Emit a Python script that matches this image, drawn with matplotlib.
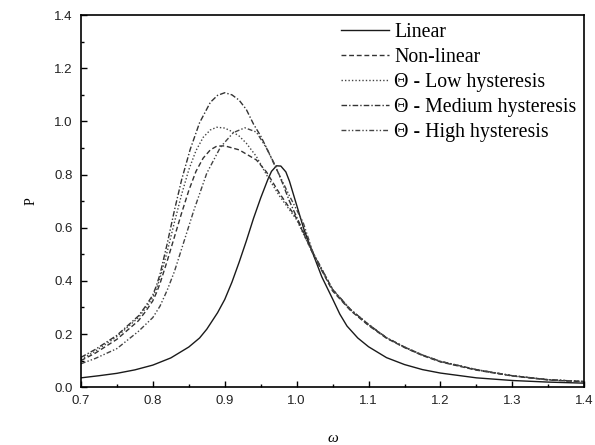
import matplotlib
matplotlib.use('Agg')
import matplotlib.pyplot as plt
from matplotlib.ticker import MultipleLocator

# ---------- Data ----------
w_linear = [0.70, 0.725, 0.75, 0.775, 0.80, 0.825, 0.85, 0.865, 0.875, 0.89, 0.90,
            0.91, 0.92, 0.93, 0.94, 0.95, 0.96, 0.965, 0.972, 0.978, 0.985, 0.99,
            1.00, 1.01, 1.023, 1.035, 1.05, 1.06, 1.07, 1.085, 1.10, 1.125, 1.15,
            1.175, 1.20, 1.25, 1.30, 1.35, 1.40]
p_linear = [0.035, 0.043, 0.052, 0.065, 0.083, 0.110, 0.151, 0.185, 0.218, 0.280,
            0.330, 0.395, 0.470, 0.550, 0.635, 0.712, 0.782, 0.812, 0.833, 0.832,
            0.810, 0.775, 0.685, 0.595, 0.500, 0.415, 0.332, 0.275, 0.230, 0.185,
            0.152, 0.111, 0.085, 0.066, 0.053, 0.035, 0.025, 0.019, 0.015]

w_nonlin = [0.70, 0.72, 0.75, 0.78, 0.79, 0.80, 0.805, 0.81, 0.82, 0.83, 0.84, 0.85,
            0.86, 0.87, 0.88, 0.889, 0.90, 0.92, 0.944, 0.958, 0.976, 1.00, 1.023,
            1.05, 1.075, 1.10, 1.125, 1.15, 1.175, 1.20, 1.25, 1.30, 1.35, 1.40]
p_nonlin = [0.100, 0.128, 0.180, 0.250, 0.285, 0.325, 0.355, 0.390, 0.475, 0.565,
            0.655, 0.740, 0.812, 0.862, 0.893, 0.907, 0.908, 0.893, 0.855, 0.810,
            0.730, 0.635, 0.500, 0.362, 0.288, 0.232, 0.184, 0.149, 0.119, 0.095,
            0.064, 0.042, 0.027, 0.020]

w_low = [0.70, 0.72, 0.75, 0.78, 0.79, 0.80, 0.805, 0.81, 0.82, 0.83, 0.84, 0.85,
         0.86, 0.87, 0.88, 0.889, 0.90, 0.91, 0.92, 0.93, 0.944, 0.96, 0.976, 1.00,
         1.023, 1.05, 1.075, 1.10, 1.125, 1.15, 1.175, 1.20, 1.25, 1.30, 1.35, 1.40]
p_low = [0.105, 0.135, 0.190, 0.262, 0.297, 0.338, 0.370, 0.410, 0.510, 0.620,
         0.725, 0.818, 0.890, 0.940, 0.968, 0.978, 0.975, 0.962, 0.945, 0.918,
         0.868, 0.790, 0.720, 0.630, 0.500, 0.365, 0.290, 0.234, 0.185, 0.150,
         0.120, 0.096, 0.065, 0.043, 0.028, 0.021]

w_med = [0.70, 0.72, 0.75, 0.78, 0.79, 0.80, 0.805, 0.81, 0.82, 0.83, 0.84, 0.852,
         0.865, 0.88, 0.89, 0.90, 0.91, 0.92, 0.93, 0.94, 0.95, 0.96, 0.97, 0.98,
         0.99, 1.00, 1.023, 1.05, 1.075, 1.10, 1.125, 1.15, 1.175, 1.20, 1.25, 1.30,
         1.35, 1.40]
p_med = [0.112, 0.142, 0.195, 0.268, 0.305, 0.347, 0.382, 0.425, 0.540, 0.665,
         0.780, 0.895, 0.995, 1.072, 1.098, 1.108, 1.100, 1.080, 1.045, 0.990,
         0.945, 0.890, 0.835, 0.770, 0.700, 0.640, 0.505, 0.368, 0.292, 0.236,
         0.186, 0.151, 0.121, 0.097, 0.066, 0.043, 0.028, 0.021]

w_high = [0.70, 0.72, 0.75, 0.78, 0.80, 0.81, 0.82, 0.83, 0.84, 0.857, 0.875, 0.894,
          0.912, 0.928, 0.944, 0.958, 0.972, 0.99, 1.009, 1.023, 1.05, 1.075, 1.10,
          1.125, 1.15, 1.175, 1.20, 1.25, 1.30, 1.35, 1.40]
p_high = [0.088, 0.108, 0.145, 0.210, 0.262, 0.305, 0.365, 0.435, 0.520, 0.665,
          0.805, 0.903, 0.958, 0.976, 0.960, 0.900, 0.820, 0.720, 0.620, 0.505,
          0.368, 0.292, 0.236, 0.186, 0.151, 0.121, 0.097, 0.066, 0.043, 0.028,
          0.021]

labels = ['Linear', 'Non-linear', '\u0398 - Low hysteresis',
          '\u0398 - Medium hysteresis', '\u0398 - High hysteresis']

# ---------- Plot ----------
fig = plt.figure(figsize=(5.95, 4.45), dpi=100)
ax = fig.add_axes([0.136, 0.130, 0.846, 0.836])

lw = 1.0
ax.plot(w_linear, p_linear, color='#1a1a1a', lw=lw, ls='-', label=labels[0])
ax.plot(w_nonlin, p_nonlin, color='#333333', lw=lw, ls=(0, (3.5, 2)), label=labels[1])
ax.plot(w_low, p_low, color='#444444', lw=lw, ls=(0, (1, 1.5)), label=labels[2])
ax.plot(w_med, p_med, color='#333333', lw=lw, ls=(0, (4, 1.5, 1, 1.5)), label=labels[3])
ax.plot(w_high, p_high, color='#444444', lw=lw, ls=(0, (3.5, 1.5, 1, 1.5, 1, 1.5)),
        label=labels[4])

ax.set_xlim(0.7, 1.4)
ax.set_ylim(0.0, 1.4)
ax.xaxis.set_major_locator(MultipleLocator(0.1))
ax.xaxis.set_minor_locator(MultipleLocator(0.05))
ax.yaxis.set_major_locator(MultipleLocator(0.2))
ax.yaxis.set_minor_locator(MultipleLocator(0.1))
ax.tick_params(which='both', direction='in', top=False, right=False,
               labelsize=9.5, labelcolor='#222222', pad=6)
ax.tick_params(which='major', length=4, width=1)
ax.tick_params(which='minor', length=2.5, width=1)
for lab in ax.get_xticklabels() + ax.get_yticklabels():
    lab.set_family('Liberation Sans')
for s in ax.spines.values():
    s.set_linewidth(1.2)

ax.set_xlabel('\u03c9', family='Liberation Serif', style='italic', fontsize=11,
              labelpad=18)
ax.set_ylabel('P', family='Liberation Serif', fontsize=10, labelpad=12)

ax.legend(loc='upper right', frameon=False, prop={'family': 'Liberation Serif', 'size': 14.3},
          handlelength=2.4, handletextpad=0.25, labelspacing=0.3,
          borderaxespad=0.0, bbox_to_anchor=(1.0, 1.0))

fig.savefig('out.png', dpi=100)
